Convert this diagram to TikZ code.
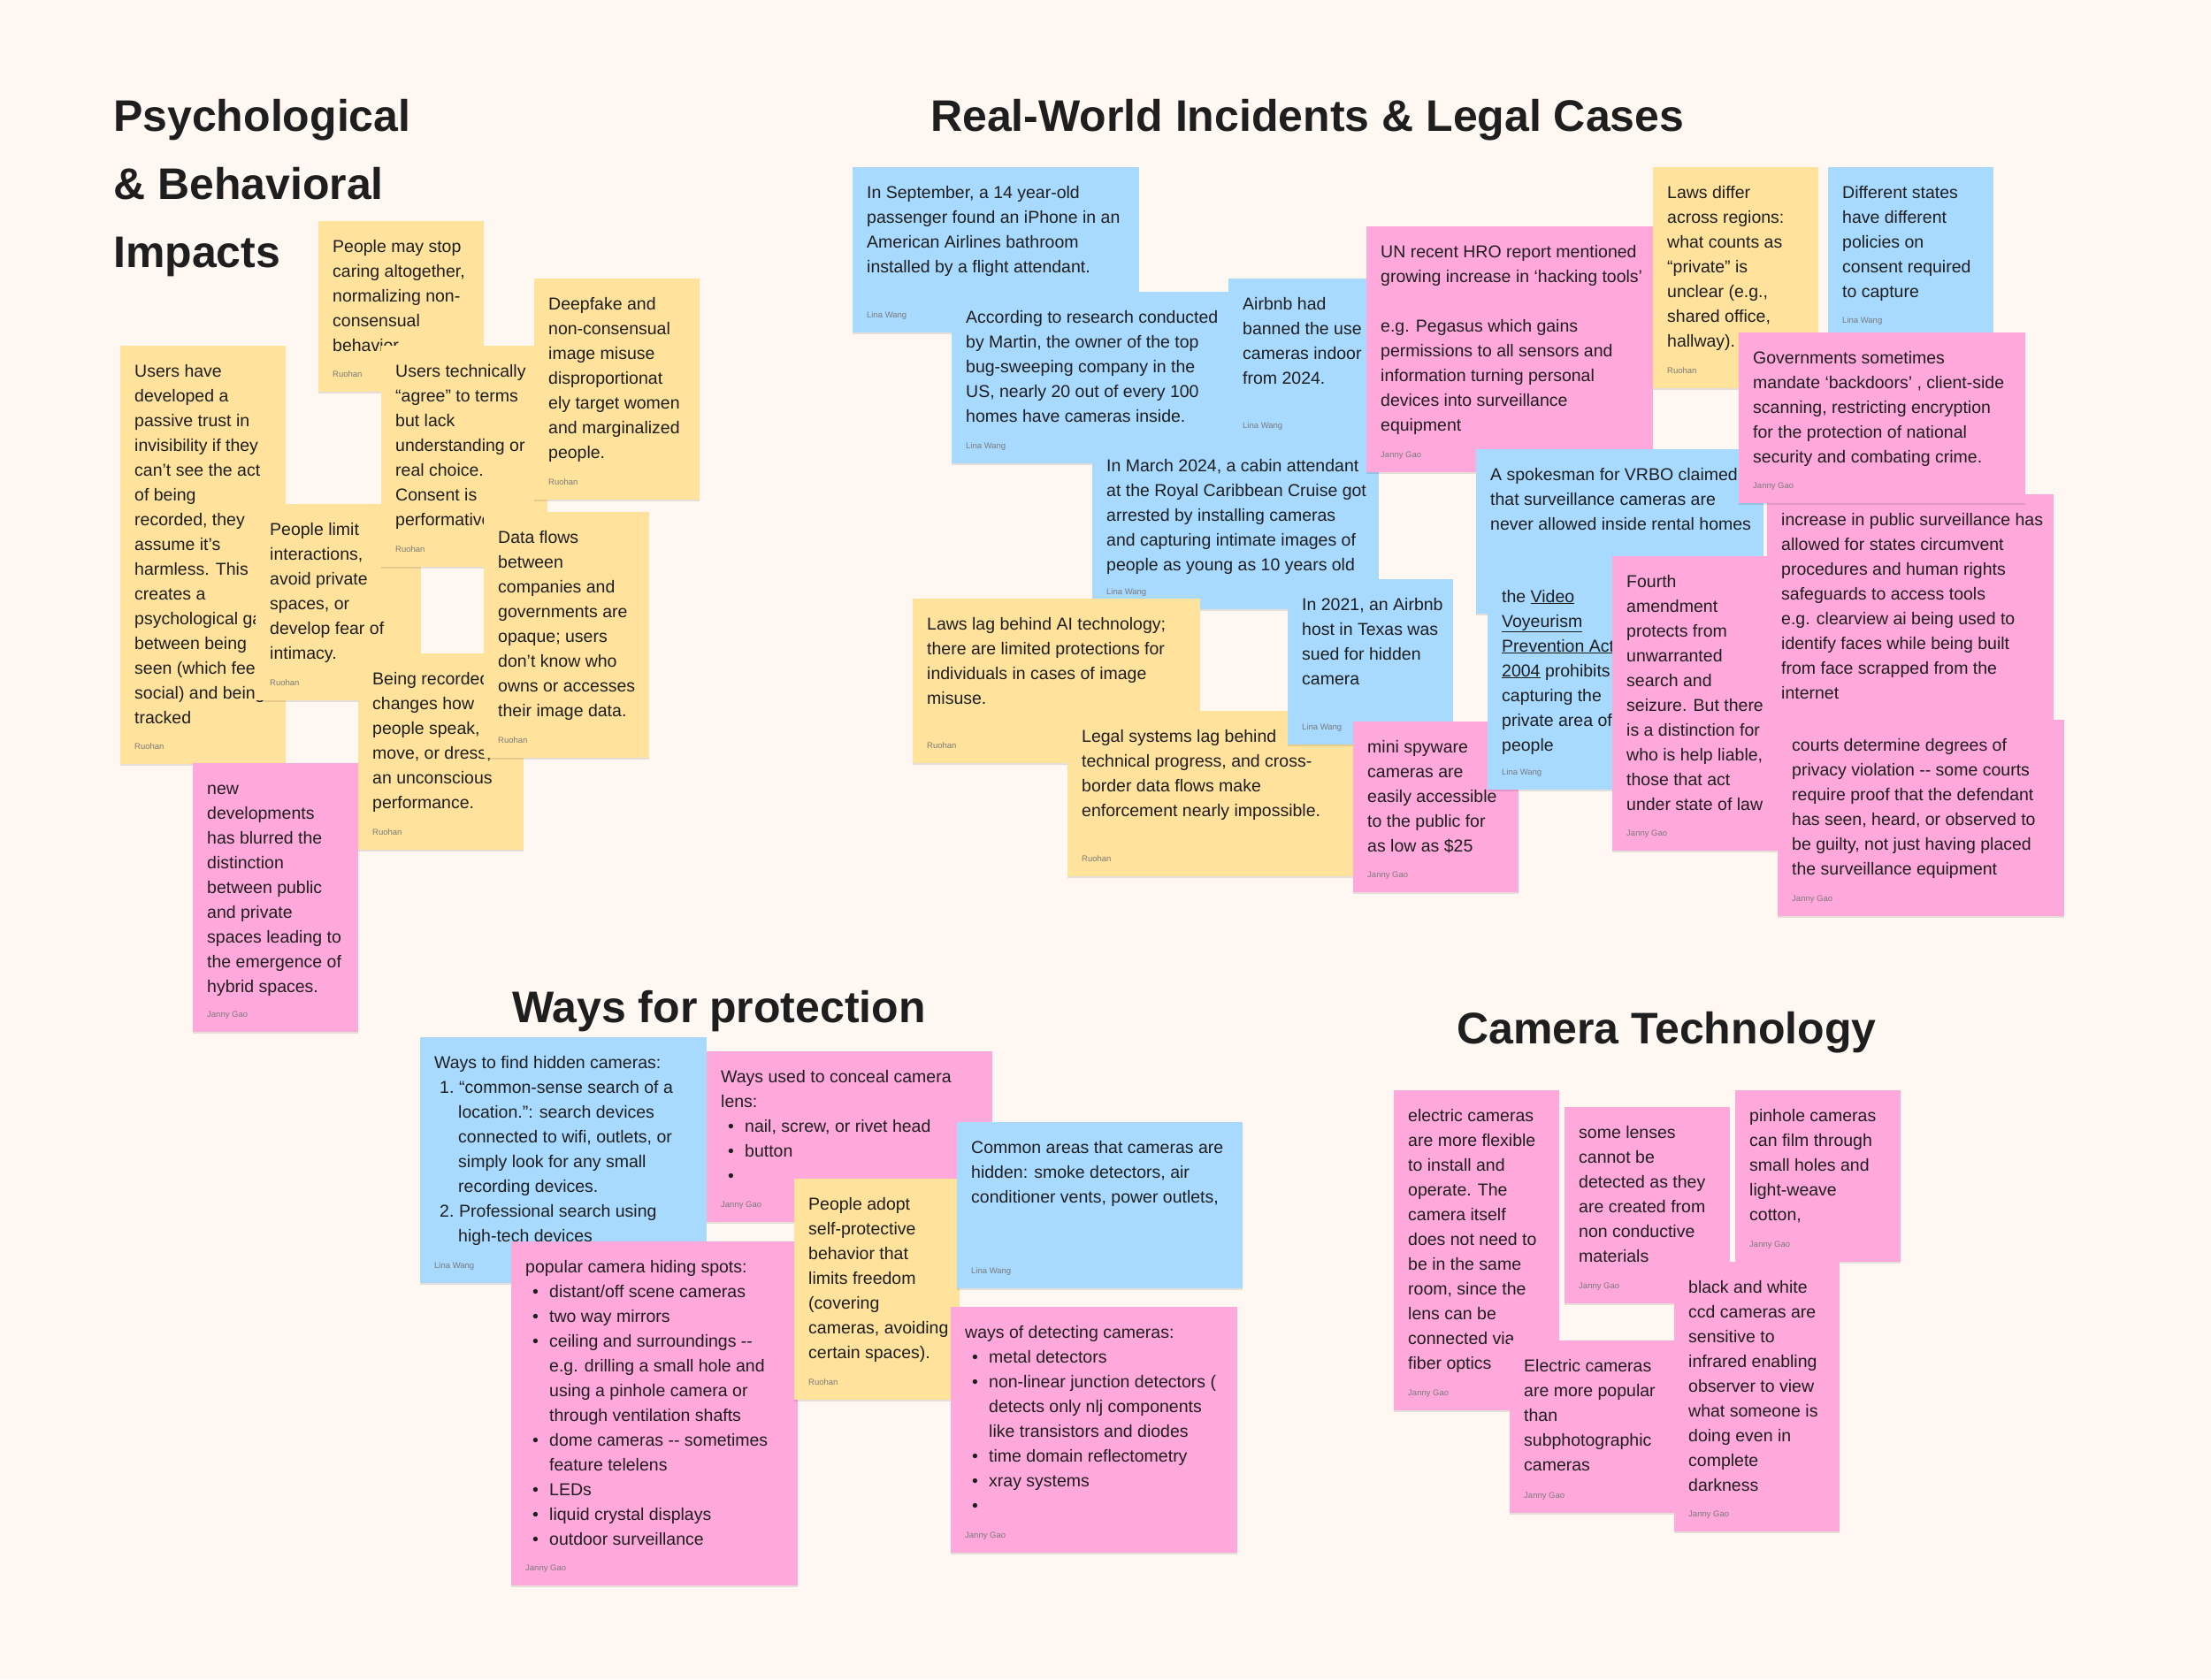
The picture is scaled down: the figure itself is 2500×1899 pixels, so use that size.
\documentclass[tikz,border=0pt]{standalone}
\usepackage{fontspec}
\setmainfont{Liberation Sans}
\newfontfamily\notefont{Liberation Sans}
\usetikzlibrary{positioning,shadows}

\definecolor{boardbg}{HTML}{FFF7F1}
\definecolor{noteyellow}{HTML}{FFE29B}
\definecolor{noteblue}{HTML}{A8D9FF}
\definecolor{notepink}{HTML}{FFA8DB}
\definecolor{inkdark}{HTML}{1E1E1E}
\definecolor{inkgrey}{HTML}{7B7B7B}

\newcommand{\bul}{\hspace*{8pt}\makebox[19pt][l]{\textbullet}}
\newcommand{\contline}{\hspace*{27pt}}
\newcommand{\numitem}[1]{\hspace*{6pt}\makebox[22pt][l]{#1}}
\newcommand{\sticky}[8]{%
  \node[note, fill=#2, minimum width=#5pt, minimum height=#6pt] (#1) at (#3,#4) {};
  \node[notetext] (#1-t) at ([shift={(16,35)}]#1.north west) {\parbox[t]{420pt}{\raggedright #7}};
  \node[byline] (#1-a) at ([shift={(16,-17)}]#1.south west) {#8};
}

\begin{document}
\begin{tikzpicture}[x=1pt, y=-1pt,
  note/.style={rectangle, anchor=north west, inner sep=0pt, draw=none,
    drop shadow={shadow xshift=0pt, shadow yshift=-2pt, opacity=0.10, fill=black}},
  notetext/.style={anchor=base west, inner sep=0pt, text=inkdark, font={\notefont\fontsize{19.5}{28}\selectfont}},
  byline/.style={anchor=base west, inner sep=0pt, text=inkgrey, font={\notefont\fontsize{9.5}{11}\selectfont}},
  heading/.style={anchor=base west, inner sep=0pt, text=inkdark, font={\notefont\bfseries\fontsize{50}{77}\selectfont}}]
  \useasboundingbox (0,0) rectangle (2500,1899);
  \fill[boardbg] (0,0) rectangle (2500,1899);

  \node[heading] (psyhead) at (128,148) {\parbox[t]{500pt}{Psychological\\\& Behavioral\\Impacts}};
  \node[heading] (inchead) at (1052,148) {Real-World Incidents \& Legal Cases};
  \node[heading] (prothead) at (579,1156) {Ways for protection};
  \node[heading] (camhead) at (1647,1180) {Camera Technology};

  \sticky{p1}{noteyellow}{360}{250}{187}{193}{People may stop\\caring altogether,\\normalizing non-\\consensual\\behavior}{Ruohan}
  \sticky{p2}{noteyellow}{136}{391}{187}{473}{Users have\\developed a\\passive trust in\\invisibility if they\\can’t see the act\\of being\\recorded, they\\assume it’s\\harmless. This\\creates a\\psychological gap\\between being\\seen (which feels\\social) and being\\tracked}{Ruohan}
  \sticky{p3}{noteyellow}{289}{570}{187}{222}{People limit\\interactions,\\avoid private\\spaces, or\\develop fear of\\intimacy.}{Ruohan}
  \sticky{p4}{noteyellow}{431}{391}{188}{250}{Users technically\\“agree” to terms\\but lack\\understanding or\\real choice.\\Consent is\\performative.}{Ruohan}
  \sticky{p5}{noteyellow}{604}{315}{187}{250}{Deepfake and\\non-consensual\\image misuse\\disproportionat\\ely target women\\and marginalized\\people.}{Ruohan}
  \sticky{p6}{noteyellow}{405}{739}{187}{222}{Being recorded\\changes how\\people speak,\\move, or dress,\\an unconscious\\performance.}{Ruohan}
  \sticky{p7}{noteyellow}{547}{579}{187}{278}{Data flows\\between\\companies and\\governments are\\opaque; users\\don’t know who\\owns or accesses\\their image data.}{Ruohan}
  \sticky{p8}{notepink}{218}{863}{187}{304}{new\\developments\\has blurred the\\distinction\\between public\\and private\\spaces leading to\\the emergence of\\hybrid spaces.}{Janny Gao}

  \sticky{r1}{noteblue}{964}{189}{324}{187}{In September, a 14 year-old\\passenger found an iPhone in an\\American Airlines bathroom\\installed by a flight attendant.}{Lina Wang}
  \sticky{r2}{noteblue}{1076}{330}{324}{194}{According to research conducted\\by Martin, the owner of the top\\bug-sweeping company in the\\US, nearly 20 out of every 100\\homes have cameras inside.}{Lina Wang}
  \sticky{r3}{noteblue}{1389}{315}{187}{186}{Airbnb had\\banned the use of\\cameras indoor\\from 2024.}{Lina Wang}
  \sticky{r4}{noteblue}{1235}{498}{324}{191}{In March 2024, a cabin attendant\\at the Royal Caribbean Cruise got\\arrested by installing cameras\\and capturing intimate images of\\people as young as 10 years old}{Lina Wang}
  \sticky{r5}{notepink}{1545}{256}{324}{278}{UN recent HRO report mentioned\\growing increase in ‘hacking tools’\\[28pt]e.g. Pegasus which gains\\permissions to all sensors and\\information turning personal\\devices into surveillance\\equipment}{Janny Gao}
  \sticky{r6}{noteyellow}{1869}{189}{187}{250}{Laws differ\\across regions:\\what counts as\\“private” is\\unclear (e.g.,\\shared office,\\hallway).}{Ruohan}
  \sticky{r7}{noteblue}{2067}{189}{187}{193}{Different states\\have different\\policies on\\consent required\\to capture}{Lina Wang}
  \sticky{r8}{noteyellow}{1032}{677}{325}{186}{Laws lag behind AI technology;\\there are limited protections for\\individuals in cases of image\\misuse.}{Ruohan}
  \sticky{r9}{noteyellow}{1207}{804}{324}{187}{Legal systems lag behind\\technical progress, and cross-\\border data flows make\\enforcement nearly impossible.}{Ruohan}
  \sticky{r10}{noteblue}{1456}{655}{187}{187}{In 2021, an Airbnb\\host in Texas was\\sued for hidden\\camera}{Lina Wang}
  \sticky{r11}{notepink}{1530}{816}{187}{193}{mini spyware\\cameras are\\easily accessible\\to the public for\\as low as \$25}{Janny Gao}
  \sticky{r12}{noteblue}{1669}{508}{325}{186}{A spokesman for VRBO claimed\\that surveillance cameras are\\never allowed inside rental homes}{}
  \sticky{r13}{noteblue}{1682}{646}{187}{247}{the \underline{Video}\\\underline{Voyeurism}\\\underline{Prevention Act}\\\underline{2004} prohibits\\capturing the\\private area of\\people}{Lina Wang}
  \sticky{r15}{notepink}{1998}{559}{324}{281}{increase in public surveillance has\\allowed for states circumvent\\procedures and human rights\\safeguards to access tools\\e.g. clearview ai being used to\\identify faces while being built\\from face scrapped from the\\internet}{}
  \sticky{r14}{notepink}{1823}{629}{187}{333}{Fourth\\amendment\\protects from\\unwarranted\\search and\\seizure. But there\\is a distinction for\\who is help liable,\\those that act\\under state of law}{Janny Gao}
  \sticky{r16}{notepink}{1966}{376}{324}{193}{Governments sometimes\\mandate ‘backdoors’ , client-side\\scanning, restricting encryption\\for the protection of national\\security and combating crime.}{Janny Gao}
  \sticky{r17}{notepink}{2010}{814}{324}{222}{courts determine degrees of\\privacy violation -- some courts\\require proof that the defendant\\has seen, heard, or observed to\\be guilty, not just having placed\\the surveillance equipment}{Janny Gao}

  \sticky{w1}{noteblue}{475}{1173}{324}{278}{Ways to find hidden cameras:\\\numitem{1.}“common-sense search of a\\\contline location.”: search devices\\\contline connected to wifi, outlets, or\\\contline simply look for any small\\\contline recording devices.\\\numitem{2.}Professional search using\\\contline high-tech devices}{Lina Wang}
  \sticky{w2}{notepink}{799}{1189}{323}{193}{Ways used to conceal camera\\lens:\\\bul nail, screw, or rivet head\\\bul button\\\bul}{Janny Gao}
  \sticky{w3}{notepink}{578}{1404}{324}{389}{popular camera hiding spots:\\\bul distant/off scene cameras\\\bul two way mirrors\\\bul ceiling and surroundings --\\\contline e.g. drilling a small hole and\\\contline using a pinhole camera or\\\contline through ventilation shafts\\\bul dome cameras -- sometimes\\\contline feature telelens\\\bul LEDs\\\bul liquid crystal displays\\\bul outdoor surveillance}{Janny Gao}
  \sticky{w4}{noteyellow}{898}{1333}{187}{250}{People adopt\\self-protective\\behavior that\\limits freedom\\(covering\\cameras, avoiding\\certain spaces).}{Ruohan}
  \sticky{w5}{noteblue}{1082}{1269}{323}{188}{Common areas that cameras are\\hidden: smoke detectors, air\\conditioner vents, power outlets,}{Lina Wang}
  \sticky{w6}{notepink}{1075}{1478}{324}{278}{ways of detecting cameras:\\\bul metal detectors\\\bul non-linear junction detectors (\\\contline detects only nlj components\\\contline like transistors and diodes\\\bul time domain reflectometry\\\bul xray systems\\\bul}{Janny Gao}

  \sticky{c1}{notepink}{1576}{1233}{187}{362}{electric cameras\\are more flexible\\to install and\\operate. The\\camera itself\\does not need to\\be in the same\\room, since the\\lens can be\\connected via\\fiber optics}{Janny Gao}
  \sticky{c2}{notepink}{1769}{1252}{187}{222}{some lenses\\cannot be\\detected as they\\are created from\\non conductive\\materials}{Janny Gao}
  \sticky{c3}{notepink}{1962}{1233}{187}{194}{pinhole cameras\\can film through\\small holes and\\light-weave\\cotton,}{Janny Gao}
  \sticky{c4}{notepink}{1707}{1516}{186}{195}{Electric cameras\\are more popular\\than\\subphotographic\\cameras}{Janny Gao}
  \sticky{c5}{notepink}{1893}{1427}{187}{305}{black and white\\ccd cameras are\\sensitive to\\infrared enabling\\observer to view\\what someone is\\doing even in\\complete\\darkness}{Janny Gao}
\end{tikzpicture}
\end{document}
